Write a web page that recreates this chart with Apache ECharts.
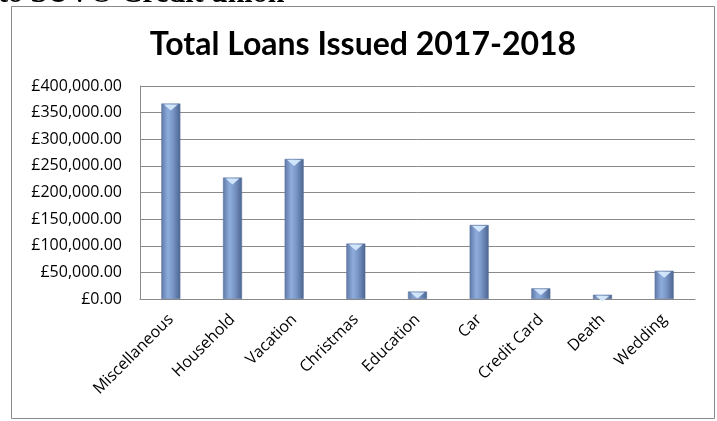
<!DOCTYPE html>
<html><head><meta charset="utf-8">
<script src="https://cdn.jsdelivr.net/npm/echarts@6/dist/echarts.min.js"></script>
<style>html,body{margin:0;padding:0;background:#fff}#c{width:717px;height:421px}</style>
</head><body><div id="c"></div>
<script>
const categories = ['Miscellaneous','Household','Vacation','Christmas','Education','Car','Credit Card','Death','Wedding'];
const loanValues = [367000, 228000, 263000, 104000, 14000, 139000, 20000, 8000, 53000];
const yTicks = [0, 50000, 100000, 150000, 200000, 250000, 300000, 350000, 400000];
const titleText = 'Total Loans Issued 2017-2018';
const headerText = 'to SUVO Credit union';

const fmt = v => '£' + v.toLocaleString('en-GB', {minimumFractionDigits: 2, maximumFractionDigits: 2});
const chart = echarts.init(document.getElementById('c'), null, {renderer: 'canvas'});
chart.setOption({
  animation: false,
  backgroundColor: '#fff',
  title: {
    text: titleText, left: 358, top: 24, textAlign: 'center',
    textStyle: {fontFamily: 'Lato', fontWeight: 'bold', fontSize: 32, color: '#000'}
  },
  graphic: [
    {type: 'rect', shape: {x: 11.5, y: 6.5, width: 703, height: 412}, style: {fill: 'none', stroke: '#8a8a8a', lineWidth: 1}, z: 100},
    {type: 'text', x: -2, y: 9, style: {text: headerText, font: 'bold 30px "Liberation Serif"', fill: '#000', verticalAlign: 'bottom'}}
  ],
  grid: {left: 140, right: 22, top: 86, bottom: 122, containLabel: false},
  xAxis: {
    type: 'category', data: categories,
    axisLine: {show: true, lineStyle: {color: '#8a8a8a', width: 1}},
    axisTick: {show: false},
    axisLabel: {rotate: 45, margin: 18, interval: 0, color: '#000', fontFamily: 'Open Sans', fontSize: 16}
  },
  yAxis: {
    type: 'value', min: yTicks[0], max: yTicks[yTicks.length - 1], interval: yTicks[1] - yTicks[0],
    axisLine: {show: true, lineStyle: {color: '#8a8a8a', width: 1}},
    axisTick: {show: false},
    splitLine: {show: true, lineStyle: {color: '#8a8a8a', width: 1}},
    axisLabel: {formatter: fmt, margin: 18, color: '#000', fontFamily: 'Open Sans', fontSize: 16}
  },
  series: [
    {
      type: 'bar', data: loanValues, barWidth: 19,
      itemStyle: {
        color: new echarts.graphic.LinearGradient(0, 0, 1, 0, [
          {offset: 0, color: '#5f78a6'},
          {offset: 0.35, color: '#8eaddc'},
          {offset: 0.6, color: '#7a97c8'},
          {offset: 1, color: '#4c6590'}
        ]),
        borderColor: '#56709c', borderWidth: 0.5
      }
    },
    {
      type: 'scatter', data: loanValues, symbol: 'triangle', symbolRotate: 180,
      symbolSize: [14, 6], symbolOffset: [0, 4], silent: true,
      itemStyle: {color: '#d9ecff', opacity: 0.9}, z: 5
    }
  ]
});
</script></body></html>
